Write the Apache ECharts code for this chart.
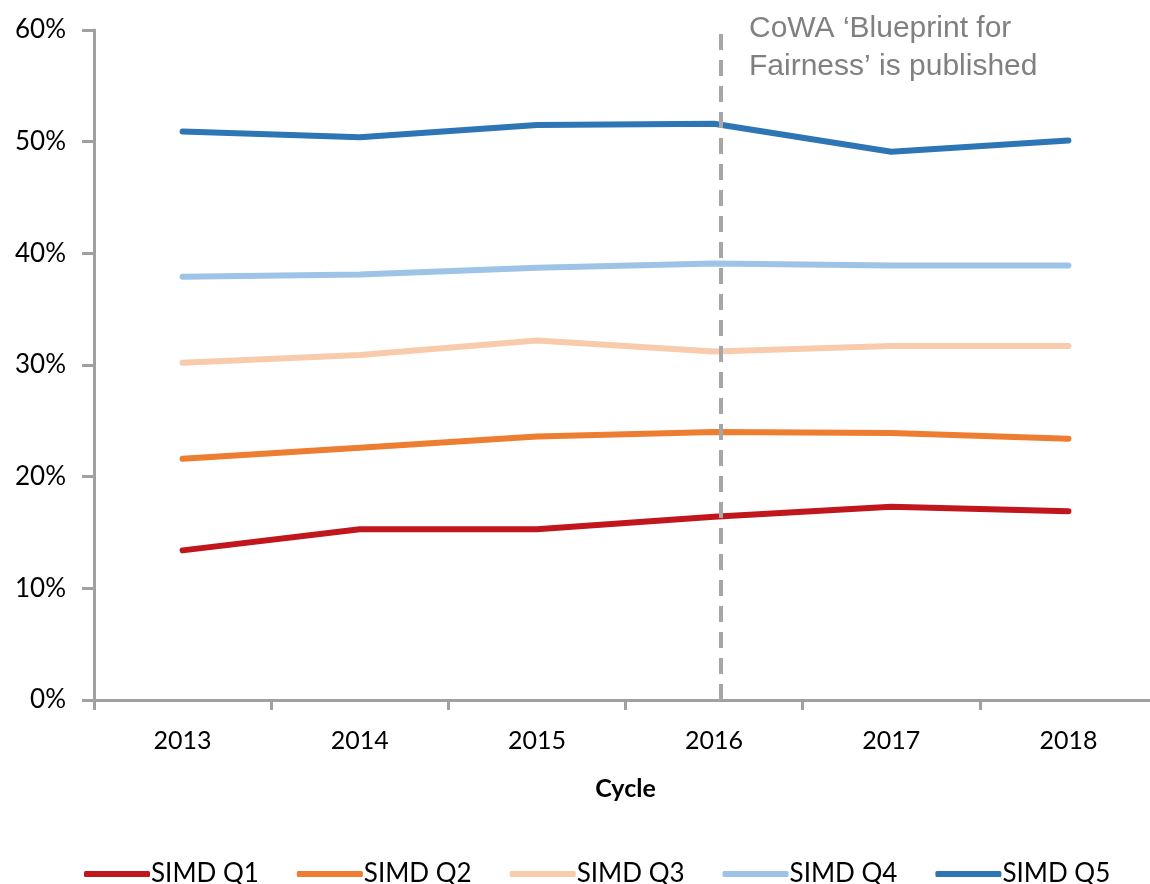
<!DOCTYPE html>
<html>
<head>
    <meta charset="utf-8">
    <title>SIMD cycle chart</title>
    <script src="https://cdn.jsdelivr.net/npm/echarts@6/dist/echarts.min.js"></script>
    <style>
        body { margin: 0; background: #fff; }
    </style>
</head>
<body>
<div id="chart" style="width: 1150px; height: 884px;"></div>
<script>
    // data (percent)
    var years = ['2013', '2014', '2015', '2016', '2017', '2018'];
    var q1 = [13.4, 15.3, 15.3, 16.4, 17.3, 16.9];
    var q2 = [21.6, 22.6, 23.6, 24.0, 23.9, 23.4];
    var q3 = [30.2, 30.9, 32.2, 31.2, 31.7, 31.7];
    var q4 = [37.9, 38.1, 38.7, 39.1, 38.9, 38.9];
    var q5 = [50.9, 50.4, 51.5, 51.6, 49.1, 50.1];
    var seriesNames = ['SIMD Q1', 'SIMD Q2', 'SIMD Q3', 'SIMD Q4', 'SIMD Q5'];
    var colors = ['#C0161C', '#ED7D31', '#F8CBAD', '#9DC3E6', '#2E75B6'];

    // annotation: blueprint published, a bit after the 2016 point
    var blueprintPos = 3.54;
    var blueprintText = 'CoWA \u2018Blueprint for\nFairness\u2019 is published';

    var font = 'Lato, "Open Sans", sans-serif';
    var allData = [q1, q2, q3, q4, q5];

    var series = seriesNames.map(function(name, i) {
        return {
            name: name,
            type: 'line',
            data: allData[i],
            symbol: 'none',
            lineStyle: { width: 6, color: colors[i], cap: 'round' },
            itemStyle: { color: colors[i] },
            z: 3
        };
    });

    // dashed vertical marker on a hidden value axis
    series.push({
        type: 'line',
        xAxisIndex: 1,
        data: [],
        silent: true,
        markLine: {
            symbol: 'none',
            silent: true,
            lineStyle: { color: '#A6A6A6', width: 4, type: [16, 10] },
            label: { show: false },
            data: [{ xAxis: blueprintPos }]
        },
        z: 2
    });

    var option = {
        animation: false,
        color: colors,
        title: {
            text: blueprintText,
            left: 744,
            top: 5,
            textStyle: {
                color: '#808080',
                fontFamily: '"Liberation Sans", Arial, sans-serif',
                fontSize: 30,
                fontWeight: 'normal',
                lineHeight: 38
            }
        },
        grid: {
            left: 94,
            top: 30,
            width: 1063,
            bottom: 184,
            outerBoundsMode: 'none'
        },
        legend: {
            data: seriesNames,
            bottom: -8,
            left: 79,
            itemWidth: 66,
            itemHeight: 6,
            itemGap: 38,
            icon: 'roundRect',
            textStyle: { fontFamily: font, fontSize: 26, color: '#000', padding: [0, 0, 0, -4] }
        },
        xAxis: [{
            type: 'category',
            data: years,
            boundaryGap: true,
            name: 'Cycle',
            nameLocation: 'middle',
            nameGap: 76,
            nameTextStyle: { fontFamily: font, fontSize: 25, fontWeight: 'bold', color: '#000' },
            axisLine: { lineStyle: { color: '#A0A0A0', width: 3 } },
            axisTick: { show: true, length: 10, lineStyle: { color: '#A0A0A0', width: 3 } },
            axisLabel: { fontFamily: font, fontSize: 25, color: '#000', margin: 28 },
            splitLine: { show: false }
        }, {
            type: 'value',
            min: 0,
            max: 6,
            show: false
        }],
        yAxis: {
            type: 'value',
            min: 0,
            max: 60,
            interval: 10,
            axisLine: { show: true, lineStyle: { color: '#A0A0A0', width: 3 } },
            axisTick: { show: true, length: 12, lineStyle: { color: '#A0A0A0', width: 3 } },
            axisLabel: {
                fontFamily: font, fontSize: 26, color: '#000', margin: 28,
                formatter: function(v) { return v + '%'; }
            },
            splitLine: { show: false }
        },
        series: series
    };

    var chart = echarts.init(document.getElementById('chart'));
    chart.setOption(option);
</script>
</body>
</html>
